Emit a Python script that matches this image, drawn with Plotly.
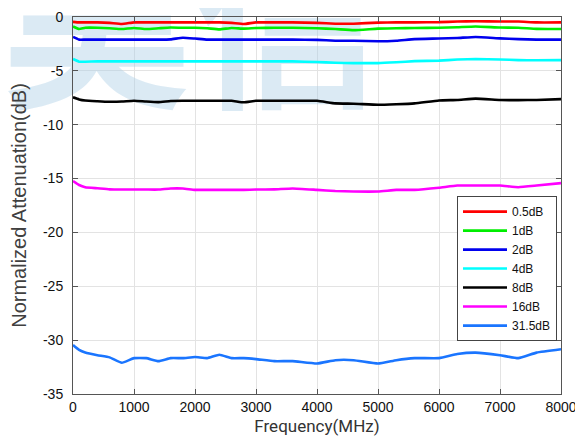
import plotly.graph_objects as go

freq = [0, 100, 200, 400, 600, 800, 1000, 1200, 1400, 1600, 1800, 2000, 2200, 2400, 2600, 2800,
        3000, 3300, 3600, 4000, 4300, 4600, 5000, 5300, 5600, 6000, 6300, 6600, 7000, 7300, 7600, 8000]

att_05 = [-0.45, -0.5, -0.5, -0.5, -0.55, -0.65, -0.5, -0.5, -0.5, -0.5, -0.5, -0.5, -0.5, -0.5, -0.55, -0.65,
          -0.5, -0.5, -0.5, -0.55, -0.62, -0.62, -0.52, -0.5, -0.5, -0.48, -0.42, -0.4, -0.42, -0.42, -0.5, -0.5]
att_1 = [-0.88, -1.12, -1.0, -1.0, -1.05, -1.12, -1.02, -1.12, -1.05, -0.98, -1.0, -1.0, -1.05, -1.15, -1.02, -1.08,
         -1.02, -1.0, -1.0, -1.05, -1.12, -1.22, -1.08, -1.05, -1.02, -1.0, -0.95, -0.88, -0.98, -1.0, -1.1, -1.12]
att_2 = [-1.85, -2.1, -2.1, -2.1, -2.1, -2.1, -2.1, -2.1, -2.1, -2.08, -1.92, -2.0, -2.1, -2.1, -2.1, -2.1,
         -2.1, -2.1, -2.1, -2.12, -2.2, -2.2, -2.25, -2.2, -2.05, -2.0, -1.95, -1.85, -1.98, -2.05, -2.1, -2.1]
att_4 = [-3.9, -4.15, -4.15, -4.12, -4.12, -4.12, -4.12, -4.12, -4.12, -4.12, -4.12, -4.12, -4.12, -4.12, -4.12, -4.12,
         -4.12, -4.12, -4.12, -4.18, -4.25, -4.28, -4.28, -4.2, -4.1, -4.05, -3.95, -3.9, -3.95, -4.0, -4.02, -4.0]
att_8 = [-7.46, -7.65, -7.75, -7.82, -7.87, -7.85, -7.77, -7.85, -7.9, -7.8, -7.77, -7.78, -7.78, -7.78, -7.78, -7.92,
         -7.78, -7.78, -7.78, -7.78, -8.02, -8.05, -8.15, -8.1, -8.02, -7.75, -7.7, -7.58, -7.7, -7.72, -7.7, -7.62]
att_16 = [-15.23, -15.6, -15.8, -15.9, -16.0, -16.02, -16.02, -16.02, -16.02, -15.92, -15.92, -16.05, -16.05, -16.05, -16.05, -16.05,
          -16.02, -16.0, -15.92, -16.05, -16.15, -16.2, -16.2, -16.05, -16.05, -15.85, -15.65, -15.65, -15.65, -15.8, -15.65, -15.42]
att_315 = [-30.45, -30.9, -31.15, -31.4, -31.6, -32.1, -31.67, -31.67, -31.95, -31.67, -31.67, -31.57, -31.67, -31.35, -31.67, -31.67,
           -31.76, -31.95, -31.95, -32.17, -31.86, -31.86, -32.17, -31.86, -31.67, -31.67, -31.29, -31.16, -31.4, -31.67, -31.16, -30.85]

names = ["0.5dB", "1dB", "2dB", "4dB", "8dB", "16dB", "31.5dB"]
series = [att_05, att_1, att_2, att_4, att_8, att_16, att_315]
colors = ["#ff0000", "#00ee00", "#0000ee", "#00ffff", "#000000", "#ff00ff", "#1a75ff"]

x_ticks = [0, 1000, 2000, 3000, 4000, 5000, 6000, 7000, 8000]
y_ticks = [0, -5, -10, -15, -20, -25, -30, -35]

fig = go.Figure()

# faint watermark behind the curves
fig.add_trace(go.Scatter(
    x=[1950], y=[-2.6], mode="text", text=["昊信"], showlegend=False, hoverinfo="skip",
    textfont=dict(family="Noto Sans CJK SC", size=190, color="rgba(170,205,228,0.42)", weight="bold"),
    cliponaxis=False,
))

for name, vals, col in zip(names, series, colors):
    fig.add_trace(go.Scatter(x=freq, y=vals, mode="lines", name=name,
                             line=dict(color=col, width=2.6, shape="spline", smoothing=0.4)))

axis_common = dict(
    showgrid=True, gridcolor="#e3e3e3", gridwidth=1,
    showline=True, linecolor="#555555", linewidth=1, mirror="ticks",
    ticks="inside", ticklen=5, tickcolor="#555555",
    tickfont=dict(family="Liberation Sans, Arial", size=14, color="#111111"),
    zeroline=False, automargin=False,
)

fig.update_xaxes(range=[0, 8000], tickvals=x_ticks, ticktext=[str(v) for v in x_ticks],
                 title=dict(text="Frequency(MHz)", standoff=6,
                            font=dict(family="Roboto", size=17, color="#333333")),
                 **axis_common)
fig.update_yaxes(range=[-35, 0], tickvals=y_ticks, ticktext=[str(v) for v in y_ticks],
                 ticklabelstandoff=6,
                 title=dict(text="Normalized Attenuation(dB)", standoff=14,
                            font=dict(family="Liberation Sans, Arial", size=20, color="#404040")),
                 **axis_common)

fig.update_layout(
    width=575, height=431,
    margin=dict(l=65, r=22, t=9, b=45),
    paper_bgcolor="white", plot_bgcolor="white",
    showlegend=True,
    legend=dict(x=0.9918, y=0.525, xanchor="right", yanchor="top",
                bgcolor="white", bordercolor="#444444", borderwidth=1,
                font=dict(family="Liberation Sans, Arial", size=12, color="#111111"),
                tracegroupgap=0, itemwidth=44),
)

fig.write_html("out.html")
